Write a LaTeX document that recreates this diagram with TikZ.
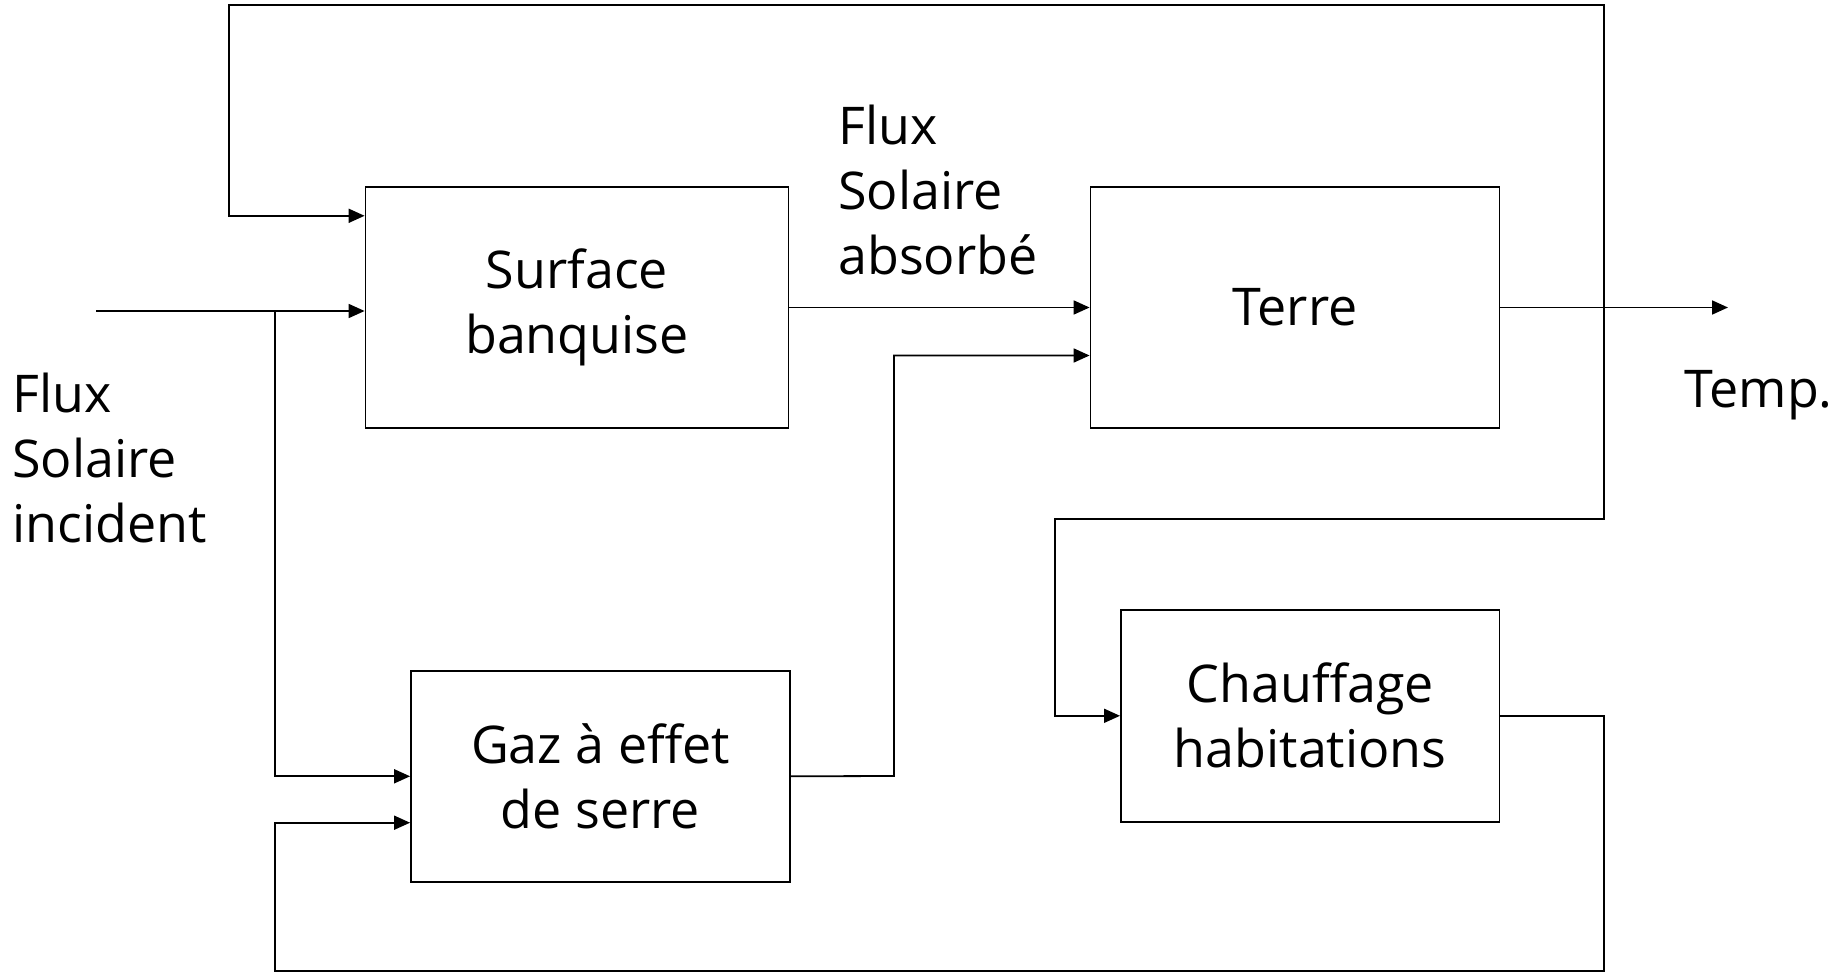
\documentclass[tikz,border=0pt]{standalone}
\usepackage{fontspec}
\setmainfont{Open Sans}
\usetikzlibrary{arrows.meta}
\tikzset{
  bloc/.style={draw, line width=0.9pt, align=center, inner sep=0pt},
  fleche/.style={-{Triangle[length=8pt,width=7pt]}, line width=0.9pt},
  texte/.style={anchor=west, align=left, inner sep=0pt}
}
\begin{document}
\begin{tikzpicture}[x=0.5pt,y=-0.5pt,font=\fontsize{26}{32.5}\selectfont]
\useasboundingbox (0,0) rectangle (1843,973);
% blocs
\node[bloc, minimum width=211.5pt, minimum height=120.8pt] (surf) at (577,307.5) {Surface\\banquise};
\node[bloc, minimum width=204.5pt, minimum height=120.8pt] (terre) at (1295,307.5) {Terre};
\node[bloc, minimum width=189.5pt, minimum height=105.5pt] (gaz) at (600.5,776.3) {Gaz à effet\\de serre};
\node[bloc, minimum width=189.3pt, minimum height=105.9pt] (chauf) at (1310.2,715.8) {Chauffage\\habitations};
% textes
\node[texte] (fsi) at (12,458) {Flux\\Solaire\\incident};
\node[texte] (fsa) at (838,190) {Flux\\Solaire\\absorbé};
\node[texte] (temp) at (1684,395) {Temp.};
% points de passage
\coordinate (in) at (96,311);
\coordinate (br) at (275,311);
\coordinate (out) at (1728,304);
\coordinate (t) at (1604,304);
\coordinate (hautD) at (1604,5);
\coordinate (hautG) at (229,5);
\coordinate (bas) at (1604,519);
\coordinate (chG) at (1055,519);
\coordinate (g1) at (894,776);
\coordinate (bd) at (1604,971);
\coordinate (bg) at (275,971);
% liaisons
\draw[fleche] (in) -- (in -| surf.west);
\draw[fleche] (br) |- (gaz.west);
\draw[fleche] (surf.east) -- (terre.west);
\draw[fleche] (gaz.east) -- (g1) |- ([yshift=-24pt]terre.west);
\draw[fleche] (terre.east) -- (terre.east -| out);
\draw[fleche] (t) -- (hautD) -- (hautG) |- ([yshift=-15pt]surf.north west);
\draw[fleche] (t) -- (bas) -- (chG) |- (chauf.west);
\draw[fleche] (chauf.east) -| (bd) -- (bg) |- ([yshift=30pt]gaz.south west);
\end{tikzpicture}
\end{document}
